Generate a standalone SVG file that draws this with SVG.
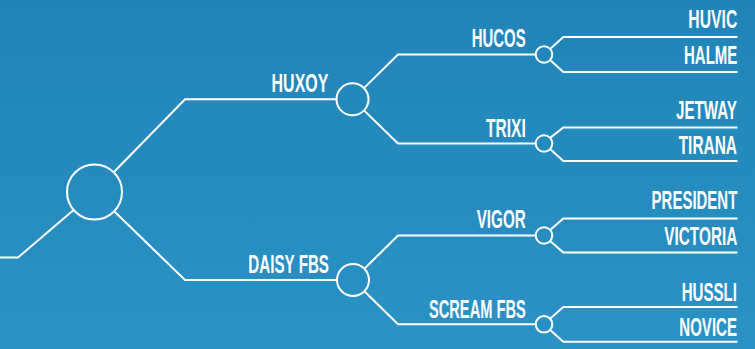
<svg xmlns="http://www.w3.org/2000/svg" width="755" height="349" viewBox="0 0 755 349">
  <defs>
    <linearGradient id="bg" x1="0" y1="0" x2="0" y2="1">
      <stop offset="0" stop-color="#2084b8"/>
      <stop offset="1" stop-color="#2a92c6"/>
    </linearGradient>
    <style>
      .ln { fill: none; stroke: #ffffff; stroke-width: 2; stroke-linejoin: miter; }
      .nd { fill: none; stroke: #ffffff; stroke-width: 2; }
      .lb { fill: #ffffff; font-family: "Liberation Sans", Arial, sans-serif; font-weight: bold; font-size: 26px; text-anchor: end; }
    </style>
  </defs>
  <rect x="0" y="0" width="755" height="349" fill="url(#bg)"/>

  <g id="connectors">
    <polyline class="ln" points="0,257.5 18,257.5 73.6,209.9"/>
    <polyline class="ln" points="113.7,172.3 185,99.3 336.5,99.3"/>
    <polyline class="ln" points="114.2,211.2 185,280 337,280"/>
    <polyline class="ln" points="363.9,88.1 398,54.5 535.7,54.5"/>
    <polyline class="ln" points="364,110.4 398,143.5 535.7,143.5"/>
    <polyline class="ln" points="364.4,268.8 398,235.5 535.7,235.5"/>
    <polyline class="ln" points="364.4,291.2 398,324.3 535.7,324.3"/>
    <polyline class="ln" points="550.1,48.9 563.3,37 737.5,37"/>
    <polyline class="ln" points="550.1,60.1 563.3,72 737.5,72"/>
    <polyline class="ln" points="550.1,137.9 563.3,127.5 737.5,127.5"/>
    <polyline class="ln" points="550.1,149.1 563.3,161 737.5,161"/>
    <polyline class="ln" points="550.1,229.9 563.3,218.5 737.5,218.5"/>
    <polyline class="ln" points="550.1,241.1 563.3,252.5 737.5,252.5"/>
    <polyline class="ln" points="550.1,318.7 563.3,307 737.5,307"/>
    <polyline class="ln" points="550.1,329.9 563.3,341.7 737.5,341.7"/>
  </g>

  <g id="root"><circle class="nd" cx="94.5" cy="192" r="27.5"/></g>

  <g id="huxoy">
    <circle class="nd" cx="352.5" cy="99.3" r="16"/>
    <text class="lb" transform="translate(328.3,92.3) scale(0.6,1)" textLength="94.5" lengthAdjust="spacingAndGlyphs">HUXOY</text>
  </g>
  <g id="daisy-fbs">
    <circle class="nd" cx="353" cy="280" r="16"/>
    <text class="lb" transform="translate(329,273.3) scale(0.6,1)" textLength="134.5" lengthAdjust="spacingAndGlyphs">DAISY FBS</text>
  </g>

  <g id="hucos">
    <circle class="nd" cx="544" cy="54.5" r="8.3"/>
    <text class="lb" transform="translate(525.7,46.7) scale(0.6,1)" textLength="90" lengthAdjust="spacingAndGlyphs">HUCOS</text>
  </g>
  <g id="trixi">
    <circle class="nd" cx="544" cy="143.5" r="8.3"/>
    <text class="lb" transform="translate(525.7,137.3) scale(0.6,1)" textLength="66.2" lengthAdjust="spacingAndGlyphs">TRIXI</text>
  </g>
  <g id="vigor">
    <circle class="nd" cx="544" cy="235.5" r="8.3"/>
    <text class="lb" transform="translate(525.7,228.3) scale(0.6,1)" textLength="81.7" lengthAdjust="spacingAndGlyphs">VIGOR</text>
  </g>
  <g id="scream-fbs">
    <circle class="nd" cx="544" cy="324.3" r="8.3"/>
    <text class="lb" transform="translate(525.7,317.7) scale(0.6,1)" textLength="161.2" lengthAdjust="spacingAndGlyphs">SCREAM FBS</text>
  </g>

  <g id="huvic"><text class="lb" transform="translate(737.3,28.3) scale(0.6,1)" textLength="81.7" lengthAdjust="spacingAndGlyphs">HUVIC</text></g>
  <g id="halme"><text class="lb" transform="translate(737.3,64.3) scale(0.6,1)" textLength="88.8" lengthAdjust="spacingAndGlyphs">HALME</text></g>
  <g id="jetway"><text class="lb" transform="translate(737,118.5) scale(0.6,1)" textLength="101.7" lengthAdjust="spacingAndGlyphs">JETWAY</text></g>
  <g id="tirana"><text class="lb" transform="translate(737,154.3) scale(0.6,1)" textLength="97.2" lengthAdjust="spacingAndGlyphs">TIRANA</text></g>
  <g id="president"><text class="lb" transform="translate(737.3,209.3) scale(0.6,1)" textLength="142.8" lengthAdjust="spacingAndGlyphs">PRESIDENT</text></g>
  <g id="victoria"><text class="lb" transform="translate(737.3,245) scale(0.6,1)" textLength="121.7" lengthAdjust="spacingAndGlyphs">VICTORIA</text></g>
  <g id="hussli"><text class="lb" transform="translate(737,300.7) scale(0.6,1)" textLength="92.2" lengthAdjust="spacingAndGlyphs">HUSSLI</text></g>
  <g id="novice"><text class="lb" transform="translate(737,335.7) scale(0.6,1)" textLength="96.2" lengthAdjust="spacingAndGlyphs">NOVICE</text></g>
</svg>
